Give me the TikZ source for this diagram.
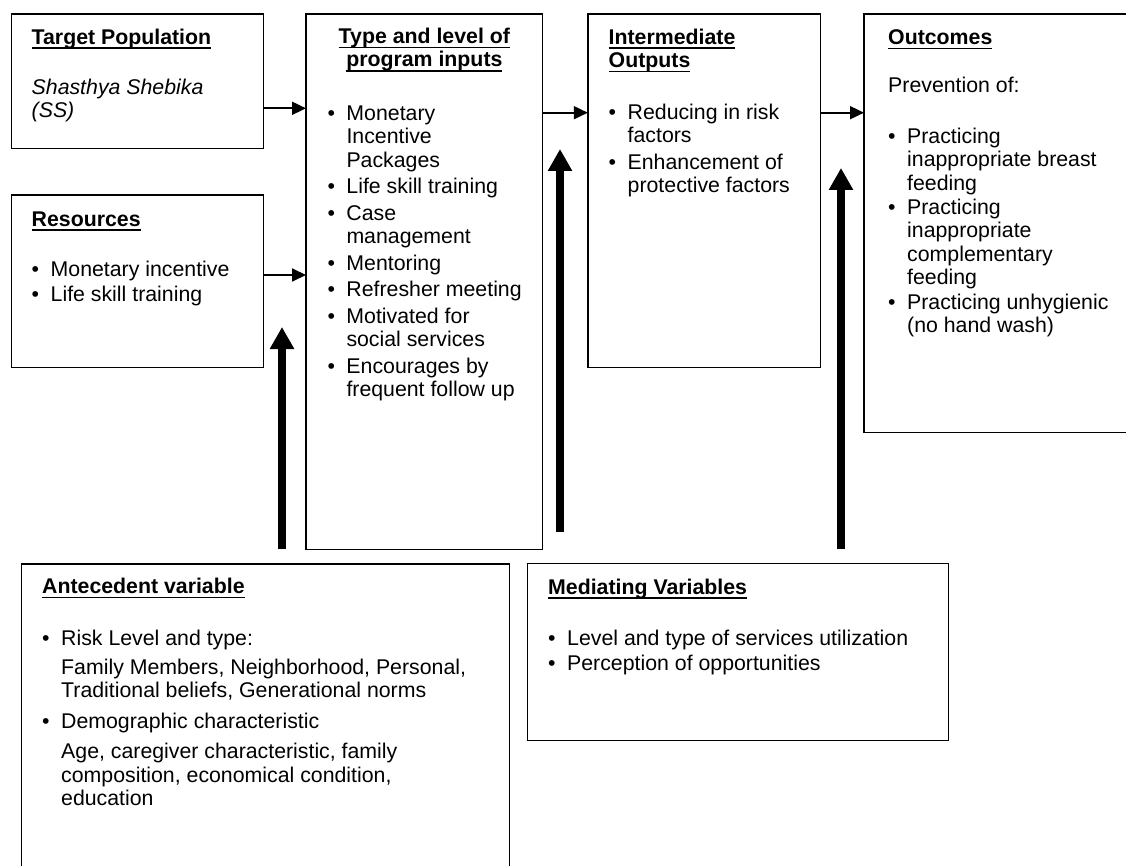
\documentclass[tikz,border=0pt]{standalone}
\usepackage{fontspec}
\setmainfont{Liberation Sans}
\usepackage{tikz}
\usetikzlibrary{arrows.meta,calc}
\newsavebox{\hdbox}
\newcommand{\hd}[1]{\sbox{\hdbox}{\bfseries #1}\rlap{\rule[-4.8pt]{\wd\hdbox}{1.6pt}}\usebox{\hdbox}}
\newcommand{\bu}{\makebox[19pt][l]{\textbullet}}
\newcommand{\ind}{\hspace*{19pt}}

\begin{document}
\begin{tikzpicture}[x=1pt,y=-1pt,
  box/.style={draw,line width=1.5pt,inner sep=0pt,outer sep=0pt,anchor=north west},
  txt/.style={inner sep=0pt,anchor=north west,align=left,font=\fontsize{21.3}{23.5}\selectfont},
  flow/.style={-{Triangle[length=14pt,width=13pt]},line width=1.8pt},
  push/.style={-{Triangle[length=22pt,width=23pt]},line width=8pt}]
  \useasboundingbox (0,0) rectangle (1126,866);
  \clip (0,0) rectangle (1126,866);

  \node[box,minimum width=252.2pt,minimum height=134.3pt] (target) at (11.4,14) {};
  \node[box,minimum width=252.1pt,minimum height=172.7pt] (res) at (11.4,195) {};
  \node[box,minimum width=236.7pt,minimum height=535.3pt] (inputs) at (306,14) {};
  \node[box,minimum width=232.8pt,minimum height=353.7pt] (inter) at (587.8,14) {};
  \node[box,minimum width=300pt,minimum height=418.3pt] (outcome) at (864,14) {};
  \node[box,minimum width=488pt,minimum height=400pt] (ante) at (21.3,564) {};
  \node[box,minimum width=421pt,minimum height=177.4pt] (med) at (527.3,563.3) {};

  \node[txt] (targettxt) at ([shift={(20.1,13.55)}]target.north west)
    {\strut\hd{Target Population}\\[26.5pt]
     \textit{Shasthya Shebika}\\ \textit{(SS)}};
  \node[txt] (restxt) at ([shift={(20.1,14.55)}]res.north west)
    {\strut\hd{Resources}\\[26.5pt]
     \bu Monetary incentive\\[2pt] \bu Life skill training};
  \node[txt,anchor=north,align=center] (inputshd) at ([shift={(0,12.85)}]inputs.north)
    {\strut\hd{Type and level of}\\ \hd{program inputs}};
  \node[txt] (inputstxt) at ([shift={(21.3,89.55)}]inputs.north west)
    {\strut\bu Monetary\\ \ind Incentive\\ \ind Packages\\[3pt]
     \bu Life skill training\\[3pt]
     \bu Case\\ \ind management\\[3pt]
     \bu Mentoring\\[3pt]
     \bu Refresher meeting\\[3pt]
     \bu Motivated for\\ \ind social services\\[3pt]
     \bu Encourages by\\ \ind frequent follow up};
  \node[txt] (intertxt) at ([shift={(20.7,13.55)}]inter.north west)
    {\strut\hd{Intermediate}\\ \hd{Outputs}\\[28pt]
     \bu Reducing in risk\\ \ind factors\\[3pt]
     \bu Enhancement of\\ \ind protective factors};
  \node[txt] (outcometxt) at ([shift={(24,13.85)}]outcome.north west)
    {\strut\hd{Outcomes}\\[25pt]
     Prevention of:\\[27pt]
     \bu Practicing\\ \ind inappropriate breast\\ \ind feeding\\[0.5pt]
     \bu Practicing\\ \ind inappropriate\\ \ind complementary\\ \ind feeding\\[0.5pt]
     \bu Practicing unhygienic\\ \ind (no hand wash)};
  \node[txt] (antetxt) at ([shift={(20.7,12.85)}]ante.north west)
    {\strut\hd{Antecedent variable}\\[28pt]
     \bu Risk Level and type:\\[5.5pt]
     \ind Family Members, Neighborhood, Personal,\\
     \ind Traditional beliefs, Generational norms\\[7.5pt]
     \bu Demographic characteristic\\[6.5pt]
     \ind Age, caregiver characteristic, family\\
     \ind composition, economical condition,\\
     \ind education};
  \node[txt] (medtxt) at ([shift={(20.7,14.25)}]med.north west)
    {\strut\hd{Mediating Variables}\\[28pt]
     \bu Level and type of services utilization\\[1pt]
     \bu Perception of opportunities};

  \coordinate (tip1) at (282,327);
  \coordinate (tip2) at (560,149);
  \coordinate (tip3) at (841,168);

  \draw[flow] ([yshift=-94.3pt]target.north east) -- ([yshift=-94.3pt]inputs.north west);
  \draw[flow] ([yshift=-80pt]res.north east) -- ($(res.north east -| inputs.west)+(0,80)$);
  \draw[flow] ([yshift=-98.7pt]inputs.north east) -- ([yshift=-98.7pt]inter.north west);
  \draw[flow] ([yshift=-98.7pt]inter.north east) -- ([yshift=-98.7pt]outcome.north west);

  \draw[push] ([xshift=260.7pt,yshift=14.7pt]ante.north west) -- (tip1);
  \draw[push] ([xshift=32.7pt,yshift=31.6pt]med.north west) -- (tip2);
  \draw[push] ([xshift=313.7pt,yshift=14pt]med.north west) -- (tip3);
\end{tikzpicture}
\end{document}
